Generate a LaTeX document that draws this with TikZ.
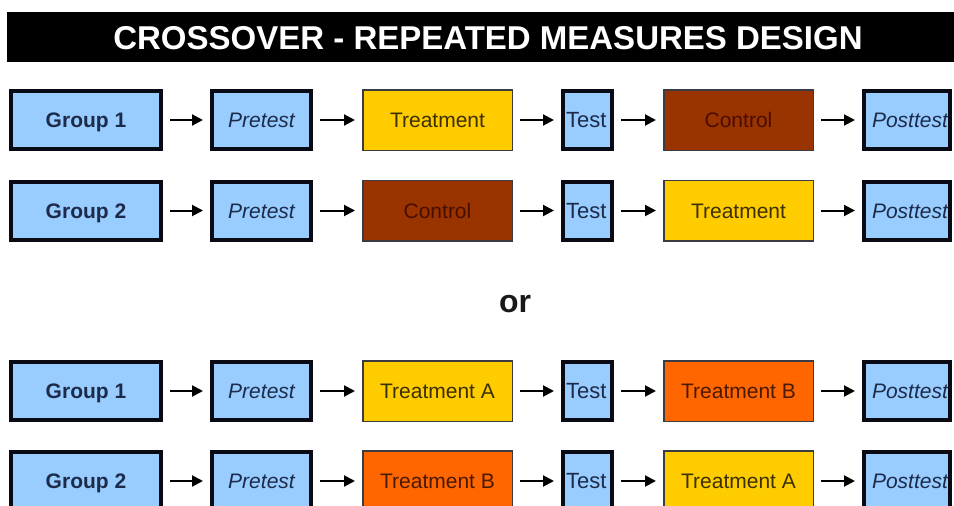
\documentclass[tikz,border=0pt]{standalone}
\usepackage{fontspec}
\setmainfont{Liberation Sans}
\usetikzlibrary{arrows.meta}
\definecolor{blueL}{HTML}{99CCFF}
\definecolor{navytxt}{HTML}{1C2B4A}
\definecolor{bordk}{HTML}{0A0A14}
\definecolor{yel}{HTML}{FFCC00}
\definecolor{yeltxt}{HTML}{3D3000}
\definecolor{brn}{HTML}{993300}
\definecolor{brntxt}{HTML}{4A0E00}
\definecolor{org}{HTML}{FF6600}
\definecolor{orgtxt}{HTML}{4A1A00}
\tikzset{
  bluebox/.style={draw=bordk, line width=4pt, fill=blueL, minimum height=58pt, inner sep=0pt, text height=15pt, text depth=0pt, text=navytxt, font=\fontsize{21}{21}\selectfont},
  colbox/.style={draw=bordk!80, line width=1.5pt, minimum width=149.5pt, minimum height=60.5pt, inner sep=0pt, text height=15pt, text depth=0pt, font=\fontsize{21}{21}\selectfont},
  treatbox/.style={colbox, fill=yel, text=yeltxt},
  ctrlbox/.style={colbox, fill=brn, text=brntxt},
  orgbox/.style={colbox, fill=org, text=orgtxt},
  flow/.style={line width=2pt, -{Triangle[length=11pt,width=11pt]}, shorten <=7pt, shorten >=7pt}
}
\begin{document}
\begin{tikzpicture}[x=1pt,y=-1pt]
\useasboundingbox (0,0) rectangle (954,506);
\clip (0,0) rectangle (954,506);
\fill[black] (7,12) rectangle (954,62);
\node[text=white, font=\fontsize{33}{33}\selectfont\bfseries, inner sep=0pt] (title) at (488,38) {CROSSOVER - REPEATED MEASURES DESIGN};
\node[font=\fontsize{32}{32}\selectfont\bfseries, text=black!90, inner sep=0pt] (or) at (515,304) {or};
% rows
\foreach \r/\yy/\ga/\gb/\sa/\sb/\ta/\tb in {
  1/120/Group 1/treatbox/Treatment/ctrlbox/Control/x,
  2/210.5/Group 2/ctrlbox/Control/treatbox/Treatment/x,
  3/391/Group 1/treatbox/Treatment A/orgbox/Treatment B/x,
  4/481/Group 2/orgbox/Treatment B/treatbox/Treatment A/x}{
  \node[bluebox, minimum width=150pt, font=\fontsize{21}{21}\selectfont\bfseries] (g\r) at (86,\yy) {\ga};
  \node[bluebox, minimum width=99pt, font=\fontsize{21}{21}\selectfont\itshape] (p\r) at (261.5,\yy) {Pretest};
  \node[\gb] (a\r) at (437.5,\yy) {\sa};
  \node[bluebox, minimum width=49pt, font=\fontsize{22}{22}\selectfont] (t\r) at (587.5,\yy) {\hbox to 49pt{\hskip 3pt Test\hss}};
  \node[\sb] (b\r) at (738.5,\yy) {\ta};
  \node[bluebox, minimum width=86pt, font=\fontsize{21}{21}\selectfont\itshape] (q\r) at (907,\yy) {\hbox to 86pt{\hskip 8pt Posttest\hss}};
  \draw[flow] (g\r) -- (p\r);
  \draw[flow] (p\r) -- (a\r);
  \draw[flow] (a\r) -- (t\r);
  \draw[flow] (t\r) -- (b\r);
  \draw[flow] (b\r) -- (q\r);
}
\end{tikzpicture}
\end{document}
